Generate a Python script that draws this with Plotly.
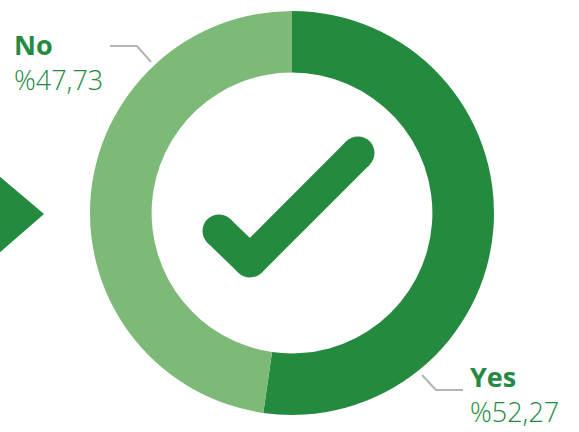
import plotly.graph_objects as go

W, H = 579, 432

labels = ["Yes", "No"]
values = [52.27, 47.73]
value_text = ["%52,27", "%47,73"]
colors = ["#238A3F", "#7DB977"]
green = "#238A3F"
gray = "#B4B4B4"

def px(x, y):
    return x / W, 1 - y / H

fig = go.Figure()
fig.add_trace(go.Pie(
    labels=labels, values=values, hole=0.695, sort=False,
    direction="clockwise", rotation=0,
    marker=dict(colors=colors, line=dict(width=0)),
    textinfo="none", hoverinfo="label+value",
    domain=dict(x=[90 / W, 494 / W], y=[1 - 415 / H, 1 - 11 / H]),
    showlegend=False,
))

shapes = []
# left arrow
tri = [(-2, 175), (44, 214), (-2, 254)]
path = "M " + " L ".join(f"{px(*p)[0]},{px(*p)[1]}" for p in tri) + " Z"
shapes.append(dict(type="path", xref="paper", yref="paper", path=path,
                   fillcolor=green, line=dict(width=0)))

# leader lines
for pts in [[(110, 46), (137, 46), (151, 62)], [(422, 375), (436, 390), (463, 390)]]:
    p = "M " + " L ".join(f"{px(*q)[0]},{px(*q)[1]}" for q in pts)
    shapes.append(dict(type="path", xref="paper", yref="paper", path=p,
                       line=dict(color=gray, width=2)))

# checkmark
ck = [(219, 231), (250, 261), (358, 153)]
sw = 33
for a, b in zip(ck[:-1], ck[1:]):
    shapes.append(dict(type="line", xref="paper", yref="paper",
                       x0=px(*a)[0], y0=px(*a)[1], x1=px(*b)[0], y1=px(*b)[1],
                       line=dict(color=green, width=sw)))
r = sw / 2
for (cx, cy) in ck:
    shapes.append(dict(type="circle", xref="paper", yref="paper",
                       x0=(cx - r) / W, x1=(cx + r) / W,
                       y0=1 - (cy + r) / H, y1=1 - (cy - r) / H,
                       fillcolor=green, line=dict(width=0)))

annotations = []
label_pos = {"No": (12, 62, "middle"), "Yes": (468, 432, "bottom")}
for lab, vt in zip(labels, value_text):
    lx, ly, ya = label_pos[lab]
    annotations.append(dict(x=px(lx, ly)[0], y=px(lx, ly)[1], xref="paper", yref="paper",
                            text=f"<b>{lab}</b><br>{vt}", showarrow=False, align="left",
                            xanchor="left", yanchor=ya,
                            font=dict(family="Open Sans", size=27, color=green, weight=300)))

fig.update_layout(width=W, height=H, margin=dict(l=0, r=0, t=0, b=0),
                  paper_bgcolor="white", plot_bgcolor="white",
                  shapes=shapes, annotations=annotations)
fig.write_html("out.html", config={"displayModeBar": False},
               post_script="document.body.style.margin='0';")
